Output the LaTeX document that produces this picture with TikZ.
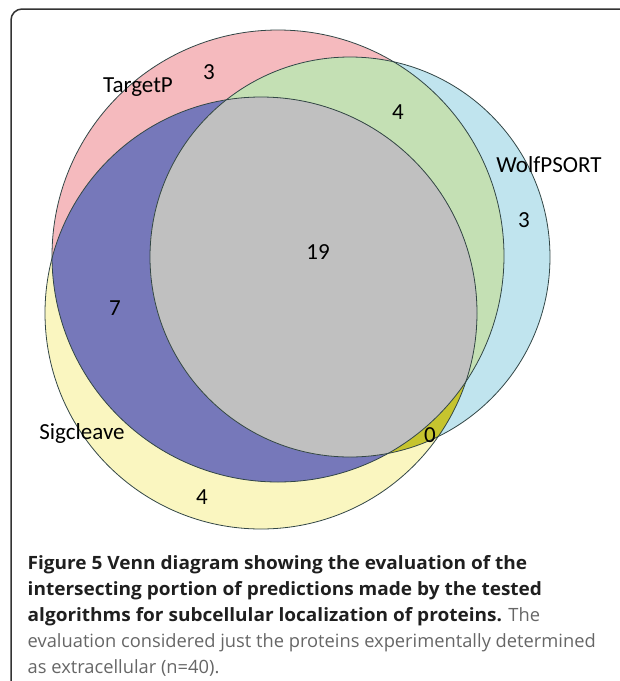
\documentclass[tikz,border=0pt]{standalone}
\usepackage{fontspec}
\newfontfamily\labelfont{Carlito}
\newfontfamily\capfont{Open Sans}[BoldFeatures={FakeStretch=1.04}]
\definecolor{tpink}{RGB}{245,186,190}
\definecolor{wblue}{RGB}{192,228,238}
\definecolor{syellow}{RGB}{250,246,192}
\definecolor{twgreen}{RGB}{196,224,180}
\definecolor{tsblue}{RGB}{118,120,186}
\definecolor{wsolive}{RGB}{198,196,46}
\definecolor{allgray}{RGB}{192,192,192}
\definecolor{rimline}{RGB}{50,70,70}
\begin{document}
\begin{tikzpicture}[
    x=1pt, y=-1pt,
    every node/.style={inner sep=0pt, font=\labelfont\fontsize{23}{23}\selectfont},
    rim/.style={draw=rimline, line width=0.8pt}
]
    \useasboundingbox (0,0) rectangle (620,681);
    \coordinate (tp) at (278,256);
    \coordinate (wp) at (350,257);
    \coordinate (sc) at (261,313);
    % single sets
    \fill[tpink] (tp) circle (226pt);
    \fill[wblue] (wp) circle (200pt);
    \fill[syellow] (sc) circle (216pt);
    % pairs
    \begin{scope}
        \clip (tp) circle (226pt);
        \fill[twgreen] (wp) circle (200pt);
        \fill[tsblue] (sc) circle (216pt);
    \end{scope}
    \begin{scope}
        \clip (wp) circle (200pt);
        \fill[wsolive] (sc) circle (216pt);
        \clip (tp) circle (226pt);
        \fill[allgray] (sc) circle (216pt);
    \end{scope}
    \draw[rim] (tp) circle (226pt);
    \draw[rim] (wp) circle (200pt);
    \draw[rim] (sc) circle (216pt);
    % labels
    \node (tplabel) at (138,87) {TargetP};
    \node (wplabel) at (549,165) {WolfPSORT};
    \node (sclabel) at (82,433) {Sigcleave};
    \node (tponly) at (209,72) {3};
    \node (twboth) at (398,112) {4};
    \node (wponly) at (524,220) {3};
    \node (allthree) at (318,252) {19};
    \node (tsboth) at (115,308) {7};
    \node (wsboth) at (430,435) {0};
    \node (sconly) at (202,497) {4};
    % frame and caption
    \draw[black!80, line width=1.5pt, rounded corners=11pt] (11,681) -- (11,9) -- (620,9);
    \node[anchor=north west, align=left, text=black!60,
          font=\capfont\fontsize{18.3}{26}\selectfont] (caption) at (27.5,555)
        {\textcolor{black!88}{\bfseries Figure 5 Venn diagram showing the evaluation of the}\\
         \textcolor{black!88}{\bfseries intersecting portion of predictions made by the tested}\\
         \textcolor{black!88}{\bfseries algorithms for subcellular localization of proteins.} The\\
         evaluation considered just the proteins experimentally determined\\
         as extracellular (n=40).};
\end{tikzpicture}
\end{document}
